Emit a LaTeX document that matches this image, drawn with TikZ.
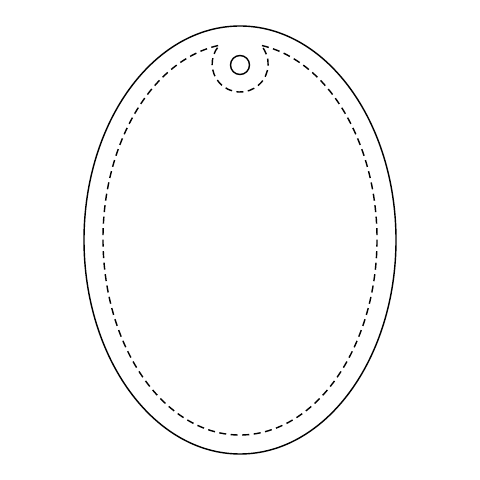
\documentclass[tikz,border=0pt]{standalone}
\usetikzlibrary{calc}

\begin{document}
\begin{tikzpicture}
  [x=0.025cm,y=0.025cm,line width=1pt,
   cutline/.style={dashed,dash pattern=on 5pt off 3.2pt}]
  \useasboundingbox (0,0) rectangle (480,480);
  \coordinate (tag) at (240,240);
  \coordinate (seam) at (240,241);
  \coordinate (hole) at (240,415);

  \draw (tag) ellipse [x radius=156, y radius=214];
  \draw (hole) circle [radius=9.5];

  \draw[cutline] ($(seam)+(99.2:137 and 196)$)
    arc [start angle=99.2, end angle=441.2, x radius=137, y radius=196]
    arc [start angle=42, end angle=-219.3, radius=28];

\end{tikzpicture}
\end{document}
